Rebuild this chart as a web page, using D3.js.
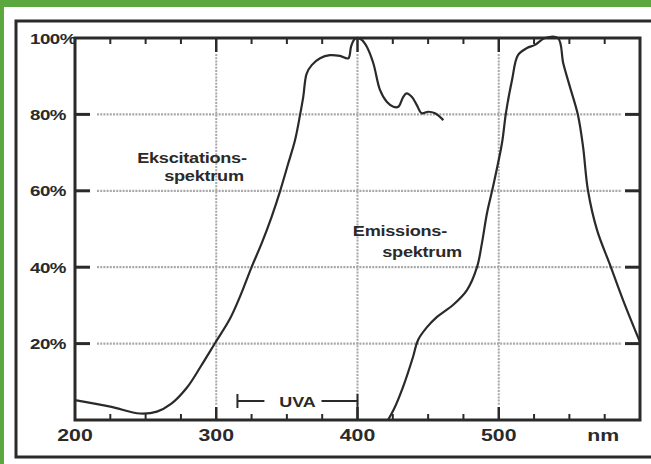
<!DOCTYPE html>
<html><head><meta charset="utf-8">
<script src="https://cdn.jsdelivr.net/npm/d3@7"></script>
<style>html,body{margin:0;padding:0;background:#fff;}svg{display:block;}</style>
</head><body>
<script>
// ---- data ----
const excitationNm = [200,225,246,258,268,279.3,289,299.1,309.7,316.8,325.1,332.2,339.2,345.1,351,355.8,359.3,361.6,364,367.6,373.5,380.5,387.6,393.5,395.4,397.5,399.4,403,406.6,411.2,415.9,420.7,425.4,428.9,432.4,434.8,438.4,441.9,445.5,450.1,454.9,460.8];
const excitationVal = [5.2,3.5,1.7,2.2,4.2,8.5,14,20.1,26.5,32.3,40.1,46.3,53.2,59.8,67.2,73.3,79.8,84.6,90.7,92.9,94.7,95.5,95.3,94.7,97.7,99.5,100,99.5,97.7,93.4,86.4,83.3,82,82,84.6,85.5,84.6,82.5,80.3,80.7,80.3,78.5];
const emissionNm = [421.6,426,432.2,439.3,442.8,449.2,456.3,467.6,477.5,484.6,488.1,491.7,495.9,502.3,505.1,509.4,513.6,520,525.7,532.7,541.9,545.7,550.4,556.1,559.7,563.2,569.6,578.8,588,600];
const emissionVal = [0,3,8.6,16.5,20.9,24.3,27,30.1,34,40,46.3,54.2,61,72.5,80.4,89,95.5,97.4,98.2,100,100,93.3,87.2,79.8,71.5,60,49.7,40.6,31.4,20.4];
const xTickLabels = [200,300,400,500];
const xMajor = [300,400,500];
const xMinor = [225,250,275,325,350,375,425,450,475,525,550,575];
const yTicks = [20,40,60,80];
const yTickLabels = ["20%","40%","60%","80%","100%"];
const yLabelVals = [20,40,60,80,100];
const uvaRange = [315,400];
const labels = [
  {text:"Ekscitations-", nm:282.8, v:68.6},
  {text:"spektrum", nm:291.3, v:63.9},
  {text:"Emissions-", nm:430, v:49.5},
  {text:"spektrum", nm:445.7, v:44}
];

const W=651,H=464;
const svg=d3.select("body").append("svg").attr("width",W).attr("height",H);
const green="#5aa83e", ink="#2a2a2a", gridc="#a8a8a8";

// green border strips
svg.append("rect").attr("x",0).attr("y",0).attr("width",W).attr("height",7).attr("fill",green);
svg.append("rect").attr("x",0).attr("y",0).attr("width",4).attr("height",H).attr("fill",green);
// outer frame
svg.append("rect").attr("x",16).attr("y",21).attr("width",650).attr("height",436)
  .attr("fill","none").attr("stroke",ink).attr("stroke-width",3);

const x=d3.scaleLinear().domain([200,600]).range([75,640]);
const y=d3.scaleLinear().domain([0,100]).range([420,38]);

// grid
const g=svg.append("g");
yTicks.forEach(v=>{
  g.append("line").attr("x1",x(200)+22).attr("x2",x(600)-18).attr("y1",y(v)).attr("y2",y(v))
   .attr("stroke",gridc).attr("stroke-width",2.2).attr("stroke-dasharray","2,1.2");
  g.append("line").attr("x1",x(200)).attr("x2",x(200)+15).attr("y1",y(v)).attr("y2",y(v))
   .attr("stroke",ink).attr("stroke-width",3);
  g.append("line").attr("x1",x(600)-15).attr("x2",x(600)).attr("y1",y(v)).attr("y2",y(v))
   .attr("stroke",ink).attr("stroke-width",3);
});
xMajor.forEach(v=>{
  g.append("line").attr("x1",x(v)).attr("x2",x(v)).attr("y1",y(100)+16).attr("y2",y(0)-14)
   .attr("stroke",gridc).attr("stroke-width",2).attr("stroke-dasharray","2,1.2");
  g.append("line").attr("x1",x(v)).attr("x2",x(v)).attr("y1",y(100)).attr("y2",y(100)+14)
   .attr("stroke",ink).attr("stroke-width",2.5);
  g.append("line").attr("x1",x(v)).attr("x2",x(v)).attr("y1",y(0)-13).attr("y2",y(0))
   .attr("stroke",ink).attr("stroke-width",2.5);
});
xMinor.forEach(v=>{
  g.append("line").attr("x1",x(v)).attr("x2",x(v)).attr("y1",y(100)).attr("y2",y(100)+6)
   .attr("stroke",ink).attr("stroke-width",2);
  g.append("line").attr("x1",x(v)).attr("x2",x(v)).attr("y1",y(0)-6).attr("y2",y(0))
   .attr("stroke",ink).attr("stroke-width",2);
});
// plot frame
svg.append("rect").attr("x",x(200)).attr("y",y(100)).attr("width",x(600)-x(200)).attr("height",y(0)-y(100))
  .attr("fill","none").attr("stroke",ink).attr("stroke-width",3);

// curves
const line=d3.line().x(d=>x(d[0])).y(d=>y(d[1])).curve(d3.curveCatmullRom.alpha(0.5));
svg.append("path").datum(d3.zip(excitationNm,excitationVal)).attr("d",line)
  .attr("fill","none").attr("stroke",ink).attr("stroke-width",2.2);
svg.append("path").datum(d3.zip(emissionNm,emissionVal)).attr("d",line)
  .attr("fill","none").attr("stroke",ink).attr("stroke-width",2.2);

// UVA bracket
const uy=y(0)-19;
const ug=svg.append("g").attr("stroke",ink).attr("stroke-width",2);
ug.append("line").attr("x1",x(uvaRange[0])).attr("x2",x(uvaRange[0])).attr("y1",uy-7).attr("y2",uy+7);
ug.append("line").attr("x1",x(uvaRange[1])).attr("x2",x(uvaRange[1])).attr("y1",uy-7).attr("y2",y(0));
ug.append("line").attr("x1",x(uvaRange[0])).attr("x2",x(uvaRange[0])+27).attr("y1",uy).attr("y2",uy);
ug.append("line").attr("x1",x(uvaRange[1])-36).attr("x2",x(uvaRange[1])).attr("y1",uy).attr("y2",uy);
const font="'Liberation Sans', Arial, Helvetica, sans-serif";
svg.append("text").attr("transform",`translate(${(x(uvaRange[0])+x(uvaRange[1]))/2},${uy+5.5}) scale(1.2,1)`)
  .attr("text-anchor","middle").attr("font-family",font).attr("font-weight","bold").attr("font-size",15)
  .attr("fill",ink).text("UVA");

// y labels
yLabelVals.forEach((v,i)=>{
  svg.append("text").attr("transform",`translate(30,${y(v)+5.5}) scale(1.25,1)`)
   .attr("font-family",font).attr("font-weight","bold").attr("font-size",15).attr("fill",ink)
   .attr("letter-spacing",-0.4).text(yTickLabels[i]);
});
// x labels
xTickLabels.forEach(v=>{
  svg.append("text").attr("transform",`translate(${x(v)},${y(0)+20.5}) scale(1.25,1)`)
   .attr("text-anchor","middle").attr("font-family",font).attr("font-weight","bold").attr("font-size",17)
   .attr("fill",ink).text(v);
});
svg.append("text").attr("transform",`translate(${x(574)},${y(0)+20.5}) scale(1.25,1)`)
  .attr("text-anchor","middle").attr("font-family",font).attr("font-weight","bold").attr("font-size",17)
  .attr("fill",ink).text("nm");

// annotations
labels.forEach(l=>{
  svg.append("text").attr("transform",`translate(${x(l.nm)},${y(l.v)+5}) scale(1.25,1)`)
   .attr("text-anchor","middle").attr("font-family",font).attr("font-weight","bold").attr("font-size",14.5)
   .attr("fill",ink).attr("letter-spacing",-0.2).text(l.text);
});
</script>
</body></html>
